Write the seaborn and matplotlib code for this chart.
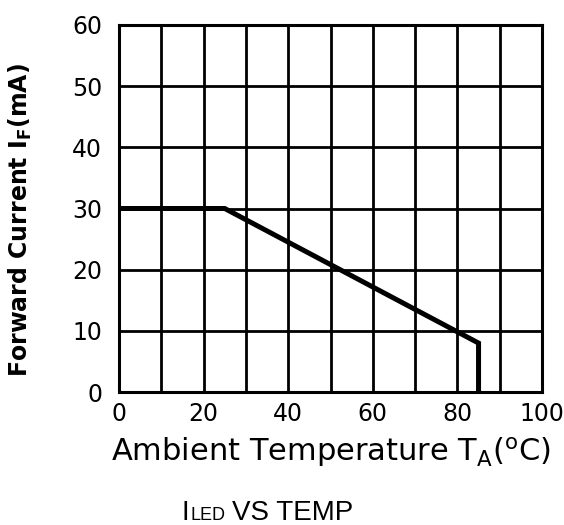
import matplotlib
matplotlib.use("Agg")
import matplotlib.pyplot as plt
import seaborn as sns
import pandas as pd

temperature = [0, 25, 85, 85]
forward_current = [30, 30, 8, 0]
x_ticks = [0, 20, 40, 60, 80, 100]
y_ticks = [0, 10, 20, 30, 40, 50, 60]

sns.set_style("white")
plt.rcParams['font.family'] = ['DejaVu Sans']

df = pd.DataFrame({"T": temperature, "I": forward_current})

fig = plt.figure(figsize=(5.64, 5.25), dpi=100)
ax = fig.add_axes([119/564, 1 - 392/525, (542-119)/564, (392-25)/525])

sns.lineplot(data=df, x="T", y="I", estimator=None, sort=False,
             color="black", linewidth=3.6, ax=ax, solid_capstyle="butt",
             solid_joinstyle="miter")

ax.set_xlim(0, 100)
ax.set_ylim(0, 60)
ax.set_xticks(range(0, 101, 10), minor=False)
ax.set_xticklabels([str(v) if v in x_ticks else "" for v in range(0, 101, 10)])
ax.set_yticks(y_ticks)
ax.grid(True, color="black", linewidth=2)
ax.set_axisbelow(True)
for s in ax.spines.values():
    s.set_color("black")
    s.set_linewidth(2.2)
ax.tick_params(axis="both", length=0, labelsize=17, colors="black")
ax.tick_params(axis="x", pad=7)
ax.tick_params(axis="y", pad=12)

ax.set_xlabel(r"Ambient Temperature T$_\mathregular{A}$($^\mathregular{o}$C)",
              fontsize=22, labelpad=7, color="black")
ax.set_ylabel(r"Forward Current I$_\mathregular{F}$(mA)", fontsize=17,
              fontweight="bold", color="black", va="center")
ax.yaxis.set_label_coords(-0.234, 0.469)

base_y = 1 - 520/525
t1 = fig.text(182/564, base_y, "I", fontsize=20, family="Liberation Sans",
              ha="left", va="baseline", color="black")
fig.canvas.draw()
r = fig.canvas.get_renderer()
bb = t1.get_window_extent(r)
t2 = fig.text((bb.x1 + 1)/564, base_y, "LED", fontsize=13, family="Liberation Sans",
              ha="left", va="baseline", color="black")
bb2 = t2.get_window_extent(r)
fig.text((bb2.x1 + 6)/564, base_y, "VS TEMP", fontsize=20, family="Liberation Sans",
         ha="left", va="baseline", color="black")

fig.savefig("out.png", dpi=100)
